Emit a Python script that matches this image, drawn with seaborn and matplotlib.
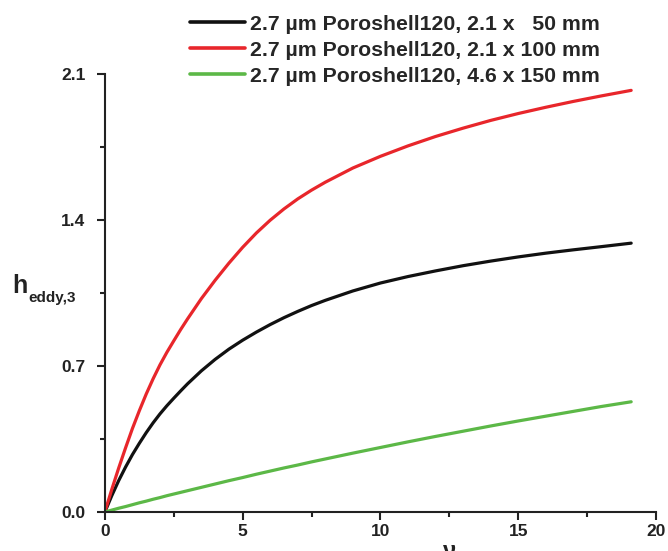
import matplotlib
matplotlib.use("Agg")
import matplotlib.pyplot as plt
from matplotlib.ticker import MultipleLocator
import pandas as pd
import seaborn as sns

# reduced velocity (nu) grid
nu = [0, 0.25, 0.5, 0.75, 1, 1.25, 1.5, 1.75, 2, 2.25, 2.5, 2.75, 3, 3.5, 4,
      4.5, 5, 5.5, 6, 6.5, 7, 7.5, 8, 9, 10, 11, 12, 13, 14, 15, 16, 17,
      18, 19.1]

h_50mm = [0, 0.078, 0.150, 0.215, 0.275, 0.329, 0.380, 0.427, 0.470, 0.509,
          0.545, 0.580, 0.614, 0.676, 0.731, 0.780, 0.823, 0.862, 0.898,
          0.931, 0.961, 0.989, 1.014, 1.059, 1.097, 1.128, 1.155, 1.180,
          1.202, 1.222, 1.240, 1.256, 1.271, 1.288]
h_100mm = [0, 0.108, 0.210, 0.307, 0.400, 0.485, 0.565, 0.638, 0.705, 0.765,
           0.820, 0.874, 0.925, 1.022, 1.110, 1.192, 1.268, 1.337, 1.398,
           1.452, 1.500, 1.542, 1.580, 1.648, 1.704, 1.754, 1.799, 1.839,
           1.876, 1.909, 1.939, 1.967, 1.993, 2.020]
h_150mm = [0, 0.009, 0.018, 0.026, 0.035, 0.044, 0.052, 0.061, 0.069, 0.078,
           0.086, 0.094, 0.102, 0.118, 0.134, 0.150, 0.165, 0.181, 0.196,
           0.211, 0.225, 0.240, 0.254, 0.282, 0.309, 0.336, 0.362, 0.387,
           0.412, 0.436, 0.459, 0.482, 0.505, 0.528]

labels = ["2.7 \u00b5m Poroshell120, 2.1 x   50 mm",
          "2.7 \u00b5m Poroshell120, 2.1 x 100 mm",
          "2.7 \u00b5m Poroshell120, 4.6 x 150 mm"]
colors = ["#111111", "#e8262b", "#5cb847"]

frames = []
for lab, vals in zip(labels, [h_50mm, h_100mm, h_150mm]):
    frames.append(pd.DataFrame({"nu": nu, "h": vals, "column": lab}))
df = pd.concat(frames, ignore_index=True)

sns.set_style("ticks")
plt.rcParams["font.family"] = ["Liberation Sans", "DejaVu Sans"]
plt.rcParams["font.weight"] = "bold"

fig = plt.figure(figsize=(6.68, 5.51), dpi=100)
ax = fig.add_axes([0.157, 0.0708, 0.825, 0.7955])

sns.lineplot(data=df, x="nu", y="h", hue="column", palette=colors,
             linewidth=2.3, ax=ax, legend=False)

ax.set_xlim(0, 20)
ax.set_ylim(0, 2.1)
ax.xaxis.set_major_locator(MultipleLocator(5))
ax.xaxis.set_minor_locator(MultipleLocator(2.5))
ax.yaxis.set_major_locator(MultipleLocator(0.7))
ax.yaxis.set_minor_locator(MultipleLocator(0.35))
ax.yaxis.set_major_formatter(plt.FormatStrFormatter("%.1f"))

for s in ["top", "right"]:
    ax.spines[s].set_visible(False)
for s in ["left", "bottom"]:
    ax.spines[s].set_linewidth(1.5)
    ax.spines[s].set_color("#222222")
    ax.spines[s].set_clip_on(False)

ax.tick_params(which="major", length=6, width=1.5, color="#222222",
               labelsize=12.5, labelcolor="#222222")
ax.tick_params(which="minor", length=3.5, width=1.5, color="#222222")
ax.tick_params(axis="y", which="major", pad=8)
ax.tick_params(axis="x", which="major", pad=3)
for t in ax.get_xticklabels() + ax.get_yticklabels():
    t.set_fontweight("bold")

ax.set_xlabel("\u03bd", fontsize=17, fontweight="bold", color="#222222")
ax.xaxis.set_label_coords(0.626, -0.065)
ax.set_ylabel("")
fig.text(0.018, 0.468, "h", fontsize=18, fontweight="bold", color="#222222")
fig.text(0.042, 0.452, "eddy,3", fontsize=11, fontweight="bold", color="#222222")

handles = [plt.Line2D([], [], color=c, linewidth=2.6) for c in colors]
fig.legend(handles, labels, loc="upper left", bbox_to_anchor=(0.284, 0.973),
           frameon=False, handlelength=2.6, handletextpad=0.25,
           labelspacing=0.33, borderpad=0, borderaxespad=0,
           prop={"weight": "bold", "size": 15.3})

plt.savefig("out.png", dpi=100)
